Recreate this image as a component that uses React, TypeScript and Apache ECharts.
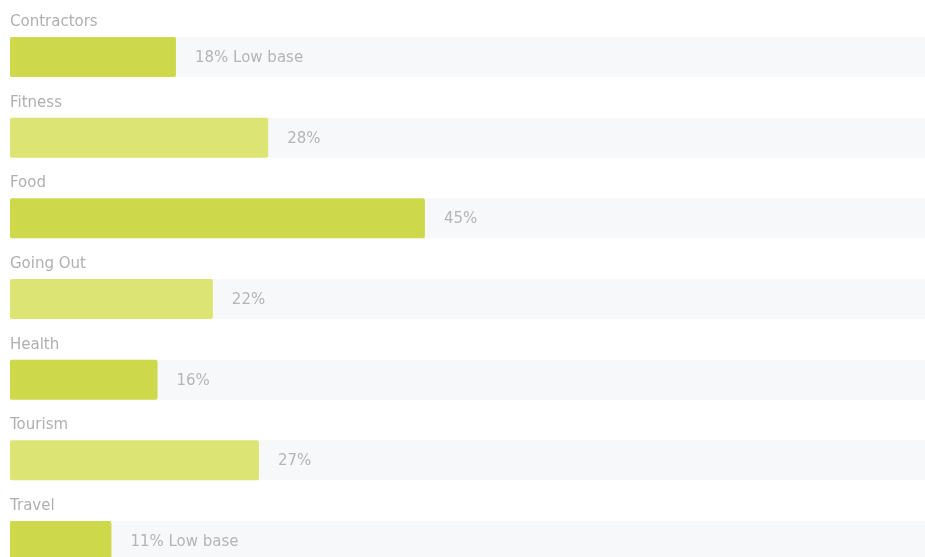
import React, { useEffect, useRef } from "react";
import * as echarts from "echarts";

const categories = ["Contractors", "Fitness", "Food", "Going Out", "Health", "Tourism", "Travel"];
const values = [18, 28, 45, 22, 16, 27, 11];
const notes = ["Low base", "", "", "", "", "", "Low base"];
const barColors = ["#cdd94a", "#dce474"];

export default function App() {
  const ref = useRef<HTMLDivElement>(null);
  useEffect(() => {
    document.body.style.margin = "0";
    document.body.style.overflow = "hidden";
    const chart = echarts.init(ref.current!, undefined, { renderer: "svg" });
    const font = "DejaVu Sans";
    chart.setOption({
      animation: false,
      grid: { left: 10, right: 0, top: 16.7, bottom: 0.7, containLabel: false },
      xAxis: { type: "value", min: 0, max: 100, show: false },
      yAxis: {
        type: "category",
        data: categories,
        inverse: true,
        show: false,
      },
      series: [
        {
          type: "bar",
          barWidth: 40,
          data: values.map((v, i) => ({
            value: v,
            itemStyle: { color: barColors[i % 2], borderRadius: 2 },
          })),
          showBackground: true,
          backgroundStyle: { color: "#f6f8f9" },
          label: {
            show: true,
            position: "right",
            distance: 19,
            color: "#b5b5b5",
            fontFamily: font,
            fontSize: 15,
            formatter: (p: any) => p.value + "%" + (notes[p.dataIndex] ? " " + notes[p.dataIndex] : ""),
          },
        },
        {
          type: "bar",
          barWidth: 40,
          barGap: "-100%",
          data: values,
          itemStyle: { color: "rgba(0,0,0,0)" },
          silent: true,
          label: {
            show: true,
            position: [0, -16],
            align: "left",
            verticalAlign: "middle",
            color: "#b0b0b0",
            fontFamily: font,
            fontSize: 15,
            formatter: (p: any) => categories[p.dataIndex],
          },
        },
      ],
    });
    return () => chart.dispose();
  }, []);
  return <div ref={ref} style={{ position: "fixed", left: 0, top: 0, width: 932, height: 582 }} />;
}
